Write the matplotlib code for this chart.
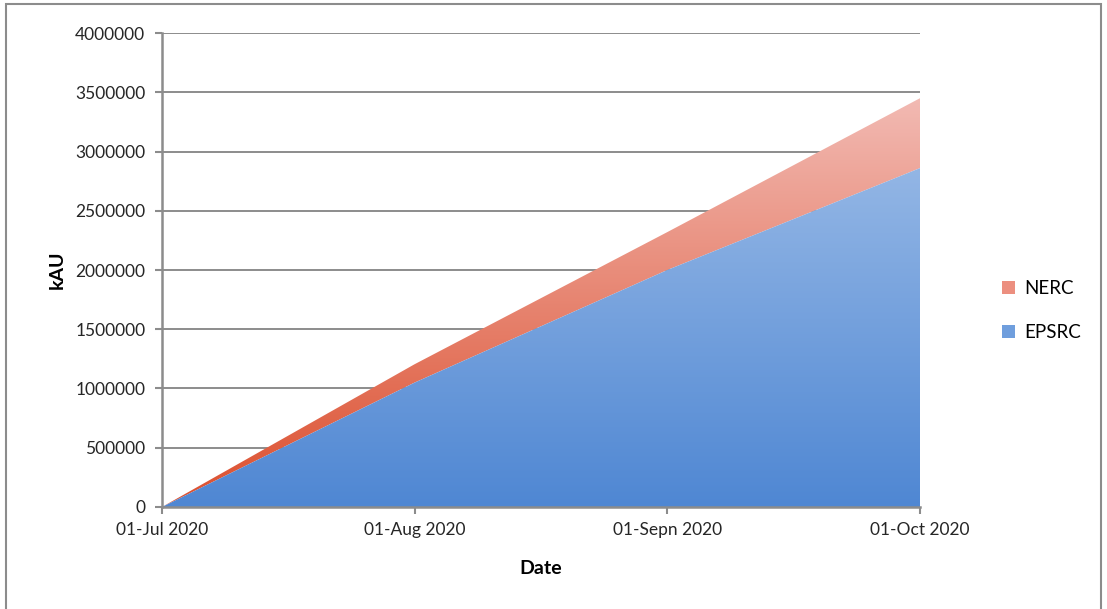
import numpy as np
import matplotlib.pyplot as plt
from matplotlib.patches import Patch, Rectangle
from matplotlib.colors import LinearSegmentedColormap

plt.rcParams['font.family'] = ['Lato', 'DejaVu Sans']

# data
dates = ["01-Jul 2020", "01-Aug 2020", "01-Sepn 2020", "01-Oct 2020"]
epsrc = [0, 1050000, 2000000, 2860000]
nerc = [0, 155000, 320000, 590000]

x = np.arange(len(dates))
total = np.array(epsrc) + np.array(nerc)

fig = plt.figure(figsize=(11.07, 6.09), dpi=100)
ax = fig.add_axes([0.1463, 0.1675, 0.6848, 0.7783])

ymax = 4000000

# gradient fills clipped to the stacked areas
blue = LinearSegmentedColormap.from_list("b", ["#4f87d3", "#93b6e5"])
red = LinearSegmentedColormap.from_list("r", ["#dc4f2e", "#f2bab3"])

def grad_fill(lo, hi, cmap, z):
    poly = ax.fill_between(x, lo, hi, color="none", lw=0, zorder=z)
    top = np.max(hi)
    bot = np.min(lo)
    g = np.linspace(0, 1, 256).reshape(-1, 1)
    im = ax.imshow(g, cmap=cmap, origin="lower", aspect="auto",
                   extent=[x[0], x[-1], bot, top], zorder=z)
    im.set_clip_path(poly.get_paths()[0], transform=ax.transData)

grad_fill(np.zeros(len(x)), np.array(epsrc), blue, 3)
grad_fill(np.array(epsrc), total, red, 2)
ax.set_xlim(0, len(dates) - 1)
ax.set_ylim(0, ymax)

yt = np.arange(0, ymax + 1, 500000)
ax.set_yticks(yt)
ax.set_yticklabels([str(v) for v in yt])
ax.set_xticks(x)
ax.set_xticklabels(dates)
ax.grid(axis="y", color="#8c8c8c", lw=1.4, zorder=1)
ax.set_axisbelow(True)

for s in ["top", "right"]:
    ax.spines[s].set_visible(False)
for s in ["left", "bottom"]:
    ax.spines[s].set_color("#8c8c8c")
    ax.spines[s].set_linewidth(1.8)
    ax.spines[s].set_zorder(5)
ax.tick_params(axis="both", colors="#8c8c8c", length=5, width=1.5,
               labelsize=12.5, labelcolor="#262626")
ax.tick_params(axis="y", pad=7)
ax.tick_params(axis="x", pad=6)

ax.set_ylabel("kAU", fontsize=14, fontweight="bold", labelpad=7)
ax.set_xlabel("Date", fontsize=14, fontweight="bold", labelpad=16)

handles = [Patch(facecolor="#ec8f7f", edgecolor="none", label="NERC"),
           Patch(facecolor="#6f9edd", edgecolor="none", label="EPSRC")]
fig.legend(handles=handles, loc="center left", bbox_to_anchor=(0.89, 0.49),
           frameon=False, fontsize=13.5, handlelength=0.7, handleheight=0.7,
           handletextpad=0.5, labelspacing=1.4)

fig.patches.append(Rectangle((0.005, -0.05), 0.99, 1.043, transform=fig.transFigure,
                             fill=False, edgecolor="#8c8c8c", lw=1.5))

fig.savefig("out.png", dpi=100)
